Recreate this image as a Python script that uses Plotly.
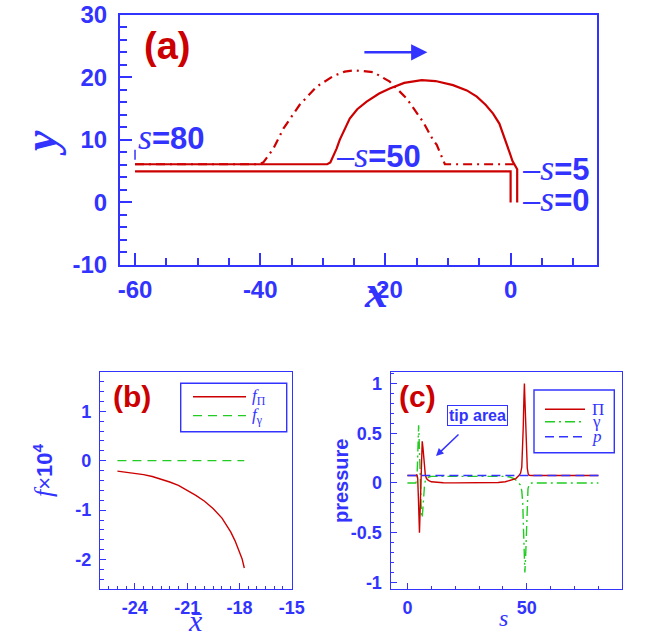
import plotly.graph_objects as go

W, H = 664, 637
BLUE = "#3333ff"
RED = "#cc0000"
GREEN = "#22cc22"

# ---------------- data ----------------
# panel (a): filament shapes
a_init_x = [-60, 0.0, 0.0]
a_init_y = [4.95, 4.95, 0.0]

a_s50_x = [-60, -29.3, -28.8, -28.3, -27.8, -27.3, -26.5, -25.7, -24.5, -23.0, -21.0, -19.3,
           -17.0, -15.0, -14.2, -12.0, -9.2, -7.0, -5.4, -4.0, -2.8, -1.8, -1.2, -0.5, -0.1,
           0.3, 0.7, 1.05, 1.05]
a_s50_y = [6.1, 6.1, 6.4, 7.4, 8.6, 10.0, 11.8, 13.4, 14.9, 16.1, 17.4, 18.2,
           19.1, 19.5, 19.55, 19.4, 18.75, 17.9, 16.9, 15.6, 14.2, 12.6, 11.0, 9.2, 7.8,
           6.6, 5.8, 5.3, 0.0]

a_dd_x = [-60, -40.2, -39.5, -38.8, -37.9, -36.3, -35.0, -33.7, -31.0, -28.3, -26.5, -25.1,
          -23.5, -21.9, -19.3, -16.6, -14.0, -12.4, -11.8, -11.0, -10.5, 0.5]
a_dd_y = [6.1, 6.1, 6.4, 7.3, 8.6, 11.8, 13.8, 15.6, 18.5, 20.2, 20.9, 21.1,
          21.0, 20.8, 19.3, 16.6, 12.9, 10.0, 9.2, 7.2, 6.1, 6.1]

a_labels = ["80", "50", "5", "0"]
a_label_x = [-59.8, -28.1, 1.6, 1.6]
a_label_y = [10.45, 7.57, 5.45, 0.55]
a_label_dash = ["", "\u2013", "\u2013", "\u2013"]

a_xticks = [-60, -40, -20, 0]
a_xticktext = ["-60", "-40", "-20", "0"]
a_yticks = [-10, 0, 10, 20, 30]
a_yticktext = ["-10", "0", "10", "20", "30"]

# panel (b)
b_x = [-25.0, -24.5, -24.0, -23.5, -23.0, -22.5, -22.0, -21.5, -21.0, -20.5, -20.0, -19.5,
       -19.0, -18.75, -18.5, -18.25, -18.0, -17.85, -17.72]
b_fpi = [-0.21, -0.23, -0.25, -0.28, -0.32, -0.37, -0.43, -0.5, -0.6, -0.7, -0.82, -0.97,
         -1.16, -1.29, -1.44, -1.62, -1.83, -1.98, -2.17]
b_xg = [-25.0, -17.72]
b_fgamma = [0.0, 0.0]

b_xticks = [-24, -21, -18, -15]
b_xticktext = ["-24", "-21", "-18", "-15"]
b_yticks = [-2, -1, 0, 1]
b_yticktext = ["-2", "-1", "0", "1"]

# panel (c)
c_s_pi = [0, 3.6, 4.0, 4.3, 4.6, 4.85, 5.05, 5.3, 5.6, 5.9, 6.2, 6.5, 6.8, 7.1, 7.5, 8.0,
          8.8, 10, 12, 15, 20, 30, 38, 41, 43.3, 45.4, 46.8, 47.4, 47.9, 48.2, 48.5, 48.8,
          49.0, 49.2, 49.5, 49.8, 50.2, 50.6, 51.0, 52, 80]
c_pi = [0.075, 0.075, 0.085, 0.05, -0.15, -0.38, -0.5, -0.3, 0.0, 0.25, 0.42, 0.36, 0.24,
        0.14, 0.08, 0.045, 0.025, 0.012, 0.006, 0.003, 0.001, 0.0, 0.005, 0.012, 0.027,
        0.044, 0.077, 0.1, 0.16, 0.3, 0.55, 0.85, 1.0, 0.85, 0.55, 0.3, 0.15, 0.09, 0.078,
        0.075, 0.075]
c_s_g = [0, 3.5, 4.0, 4.3, 4.5, 4.7, 4.9, 5.1, 5.4, 5.7, 6.0, 6.2, 6.5, 6.8, 7.2, 7.6,
         8.2, 9, 10, 40, 43, 45, 46.3, 47.3, 47.9, 48.3, 48.6, 48.9, 49.2, 49.5, 49.8,
         50.1, 50.5, 51, 52, 80]
c_gamma = [0, 0, 0.03, 0.2, 0.45, 0.58, 0.45, 0.2, -0.05, -0.2, -0.32, -0.35, -0.25, -0.12,
           -0.01, 0.03, 0.05, 0.06, 0.067, 0.067, 0.06, 0.04, 0.01, -0.02, -0.08, -0.2,
           -0.45, -0.75, -0.9, -0.75, -0.45, -0.2, -0.06, -0.01, 0, 0]
c_s_p = [0, 80]
c_p = [0.075, 0.075]

c_xticks = [0, 50]
c_xticktext = ["0", "50"]
c_yticks = [-1, -0.5, 0, 0.5, 1]
c_yticktext = ["-1", "-0.5", "0", "0.5", "1"]


# ---------------- helpers ----------------
def px(xp):
    return xp / W


def py(yp):
    return 1 - yp / H


SANS = "Liberation Sans"
SERIF = "Liberation Serif"

fig = go.Figure()

# panel (a)
fig.add_trace(go.Scatter(x=a_init_x, y=a_init_y, mode="lines",
                         line=dict(color=RED, width=2.2), xaxis="x", yaxis="y"))
fig.add_trace(go.Scatter(x=a_dd_x, y=a_dd_y, mode="lines",
                         line=dict(color=RED, width=2.2, dash="9px,5px,2px,5px"),
                         xaxis="x", yaxis="y"))
fig.add_trace(go.Scatter(x=a_s50_x, y=a_s50_y, mode="lines",
                         line=dict(color=RED, width=2.2), xaxis="x", yaxis="y"))

# panel (b)
fig.add_trace(go.Scatter(x=b_xg, y=b_fgamma, mode="lines",
                         line=dict(color=GREEN, width=1.3, dash="9px,6px"),
                         xaxis="x2", yaxis="y2"))
fig.add_trace(go.Scatter(x=b_x, y=b_fpi, mode="lines",
                         line=dict(color=RED, width=1.4), xaxis="x2", yaxis="y2"))

# panel (c)
fig.add_trace(go.Scatter(x=c_s_g, y=c_gamma, mode="lines",
                         line=dict(color=GREEN, width=1.4, dash="10px,4px,2px,4px"),
                         xaxis="x3", yaxis="y3"))
fig.add_trace(go.Scatter(x=c_s_pi, y=c_pi, mode="lines",
                         line=dict(color=RED, width=1.4), xaxis="x3", yaxis="y3"))
fig.add_trace(go.Scatter(x=c_s_p, y=c_p, mode="lines",
                         line=dict(color=BLUE, width=1.4, dash="9px,5px"),
                         xaxis="x3", yaxis="y3"))

# empty traces that carry the minor-tick overlay axes
for xa, ya in (("x4", "y4"), ("x5", "y5"), ("x6", "y6")):
    fig.add_trace(go.Scatter(x=[None], y=[None], mode="lines", xaxis=xa, yaxis=ya,
                             hoverinfo="skip", showlegend=False))


def axis(domain, rng, tickvals, ticktext, ticklen, lw, fsize, anchor, standoff):
    return dict(domain=domain, range=rng, anchor=anchor, tickmode="array",
                tickvals=tickvals, ticktext=ticktext, ticks="inside", ticklen=ticklen,
                tickwidth=lw, tickcolor=BLUE, showline=True, linecolor=BLUE, linewidth=lw,
                mirror=True, showgrid=False, zeroline=False, automargin=False,
                tickfont=dict(family=SANS, size=fsize, color=BLUE, weight="bold"),
                ticklabelstandoff=standoff)


def minor_axis(base, rng, tick0, dtick, ticklen, lw, anchor, side):
    return dict(overlaying=base, range=rng, anchor=anchor, side=side, tickmode="linear",
                tick0=tick0, dtick=dtick, ticks="inside", ticklen=ticklen, tickwidth=lw,
                tickcolor=BLUE, showticklabels=False, showline=False, showgrid=False,
                zeroline=False, automargin=False)


fig.update_layout(
    template="none",
    width=W, height=H, margin=dict(l=0, r=0, t=0, b=0, pad=0),
    paper_bgcolor="white", plot_bgcolor="white", showlegend=False,
    xaxis=axis([px(120), px(597)], [-62.4, 13.8], a_xticks, a_xticktext, 12, 2.2, 24, "y", 2),
    yaxis=axis([py(265), py(14.7)], [-10, 30], a_yticks, a_yticktext, 12, 2.2, 24, "x", 6),
    xaxis2=axis([px(100), px(291.7)], [-26, -15], b_xticks, b_xticktext, 6, 1.4, 18, "y2", 2),
    yaxis2=axis([py(589.3), py(371.7)], [-2.6, 1.8], b_yticks, b_yticktext, 6, 1.4, 18, "x2", 4),
    xaxis3=axis([px(390.7), px(622.3)], [-7, 90], c_xticks, c_xticktext, 6, 1.4, 18, "y3", 2),
    yaxis3=axis([py(589.3), py(371.7)], [-1.07, 1.12], c_yticks, c_yticktext, 6, 1.4, 18, "x3", 4),
    xaxis4=minor_axis("x", [-62.4, 13.8], 0, 5, 7, 2.2, "y4", "bottom"),
    yaxis4=minor_axis("y", [-10, 30], 0, 2, 7, 2.2, "x4", "left"),
    xaxis5=minor_axis("x2", [-26, -15], -24, 0.5, 3.5, 1.4, "y5", "bottom"),
    yaxis5=minor_axis("y2", [-2.6, 1.8], 0, 0.2, 3.5, 1.4, "x5", "left"),
    xaxis6=minor_axis("x3", [-7, 90], 0, 10, 3.5, 1.4, "y6", "bottom"),
    yaxis6=minor_axis("y3", [-1.07, 1.12], 0, 0.1, 3.5, 1.4, "x6", "left"),
)

ann = []


def text(xp, yp, t, size, color=BLUE, family=SANS, angle=0, xanchor="center",
         yanchor="middle", **kw):
    ann.append(dict(x=px(xp), y=py(yp), xref="paper", yref="paper", text=t,
                    showarrow=False, textangle=angle, xanchor=xanchor, yanchor=yanchor,
                    font=dict(size=size, color=color, family=family), **kw))


def ital(ch, size=None):
    sz = "font-size:%dpx;" % size if size else ""
    return ("<span style='font-family:Liberation Serif;font-style:italic;"
            "font-weight:normal;%s'>%s</span>" % (sz, ch))


# panel (a) texts
text(167, 46, "<b>(a)</b>", 38, color=RED)
text(40, 143, "<b><i>y</i></b>", 46, family=SERIF, angle=-90)
text(376, 291, "<b><i>x</i></b>", 46, family=SERIF)
for lab, lx, ly, dash in zip(a_labels, a_label_x, a_label_y, a_label_dash):
    ann.append(dict(x=lx, y=ly, xref="x", yref="y", showarrow=False, xanchor="left",
                    yanchor="middle",
                    text=dash + ital("s", 36) + "<b>=" + lab + "</b>",
                    font=dict(size=31, color=BLUE, family=SANS)))
# direction arrow
ann.append(dict(x=-13.3, y=24, ax=-23.6, ay=24, xref="x", yref="y", axref="x", ayref="y",
                text="", showarrow=True, arrowhead=2, arrowsize=1.3, arrowwidth=2.5,
                arrowcolor=BLUE))

# panel (b) texts
text(131.5, 396, "<b>(b)</b>", 30, color=RED)
text(44, 470, ital("f", 26) + "×<b>10</b><sup><b>4</b></sup>", 22, angle=-90)
text(195, 620, "<i>x\u0304</i>", 30, family=SERIF)
text(250, 397, "<i>f</i><sub>Π</sub>", 17, family=SERIF, xanchor="left")
text(250, 416, "<i>f</i><sub>γ</sub>", 17, family=SERIF, xanchor="left")

# panel (c) texts
text(417, 396, "<b>(c)</b>", 30, color=RED)
text(341, 480, "<b>pressure</b>", 20, angle=-90)
text(503, 618, "<i>s</i>", 24, family=SERIF)
text(590, 409.3, "Π", 17, family=SERIF, xanchor="left")
text(590, 421.7, "γ", 17, family=SERIF, xanchor="left")
text(590, 436.7, "<i>p</i>", 17, family=SERIF, xanchor="left")
text(477.8, 415.7, "<b>tip area</b>", 16, bordercolor=BLUE, borderwidth=1, borderpad=1)
ann.append(dict(x=px(436), y=py(456), ax=24, ay=-23, xref="paper", yref="paper", text="",
                showarrow=True, arrowhead=2, arrowsize=1, arrowwidth=1.5, arrowcolor=BLUE))

fig.update_layout(annotations=ann)

shapes = []
# s=80 leader
shapes.append(dict(type="line", xref="x", yref="y", x0=-60, x1=-60, y0=6.8, y1=8.4,
                   line=dict(color=BLUE, width=1.5)))
# legend (b)
shapes.append(dict(type="rect", xref="paper", yref="paper", x0=px(180.7), x1=px(286.7),
                   y0=py(431.7), y1=py(383.3), line=dict(color=BLUE, width=1.4)))
shapes.append(dict(type="line", xref="paper", yref="paper", x0=px(193), x1=px(246),
                   y0=py(396.7), y1=py(396.7), line=dict(color=RED, width=1.4)))
shapes.append(dict(type="line", xref="paper", yref="paper", x0=px(193), x1=px(246),
                   y0=py(415.7), y1=py(415.7), line=dict(color=GREEN, width=1.3,
                                                         dash="9px,6px")))
# legend (c)
shapes.append(dict(type="rect", xref="paper", yref="paper", x0=px(534), x1=px(614.3),
                   y0=py(452.7), y1=py(390), line=dict(color=BLUE, width=1.4)))
shapes.append(dict(type="line", xref="paper", yref="paper", x0=px(545), x1=px(585),
                   y0=py(409.3), y1=py(409.3), line=dict(color=RED, width=1.4)))
shapes.append(dict(type="line", xref="paper", yref="paper", x0=px(545), x1=px(585),
                   y0=py(421.7), y1=py(421.7), line=dict(color=GREEN, width=1.4,
                                                         dash="10px,4px,2px,4px")))
shapes.append(dict(type="line", xref="paper", yref="paper", x0=px(545), x1=px(585),
                   y0=py(436.7), y1=py(436.7), line=dict(color=BLUE, width=1.4,
                                                         dash="9px,5px")))
fig.update_layout(shapes=shapes)

fig.write_html("out.html", config={"displayModeBar": False},
               post_script="document.body.style.margin='0px';")
